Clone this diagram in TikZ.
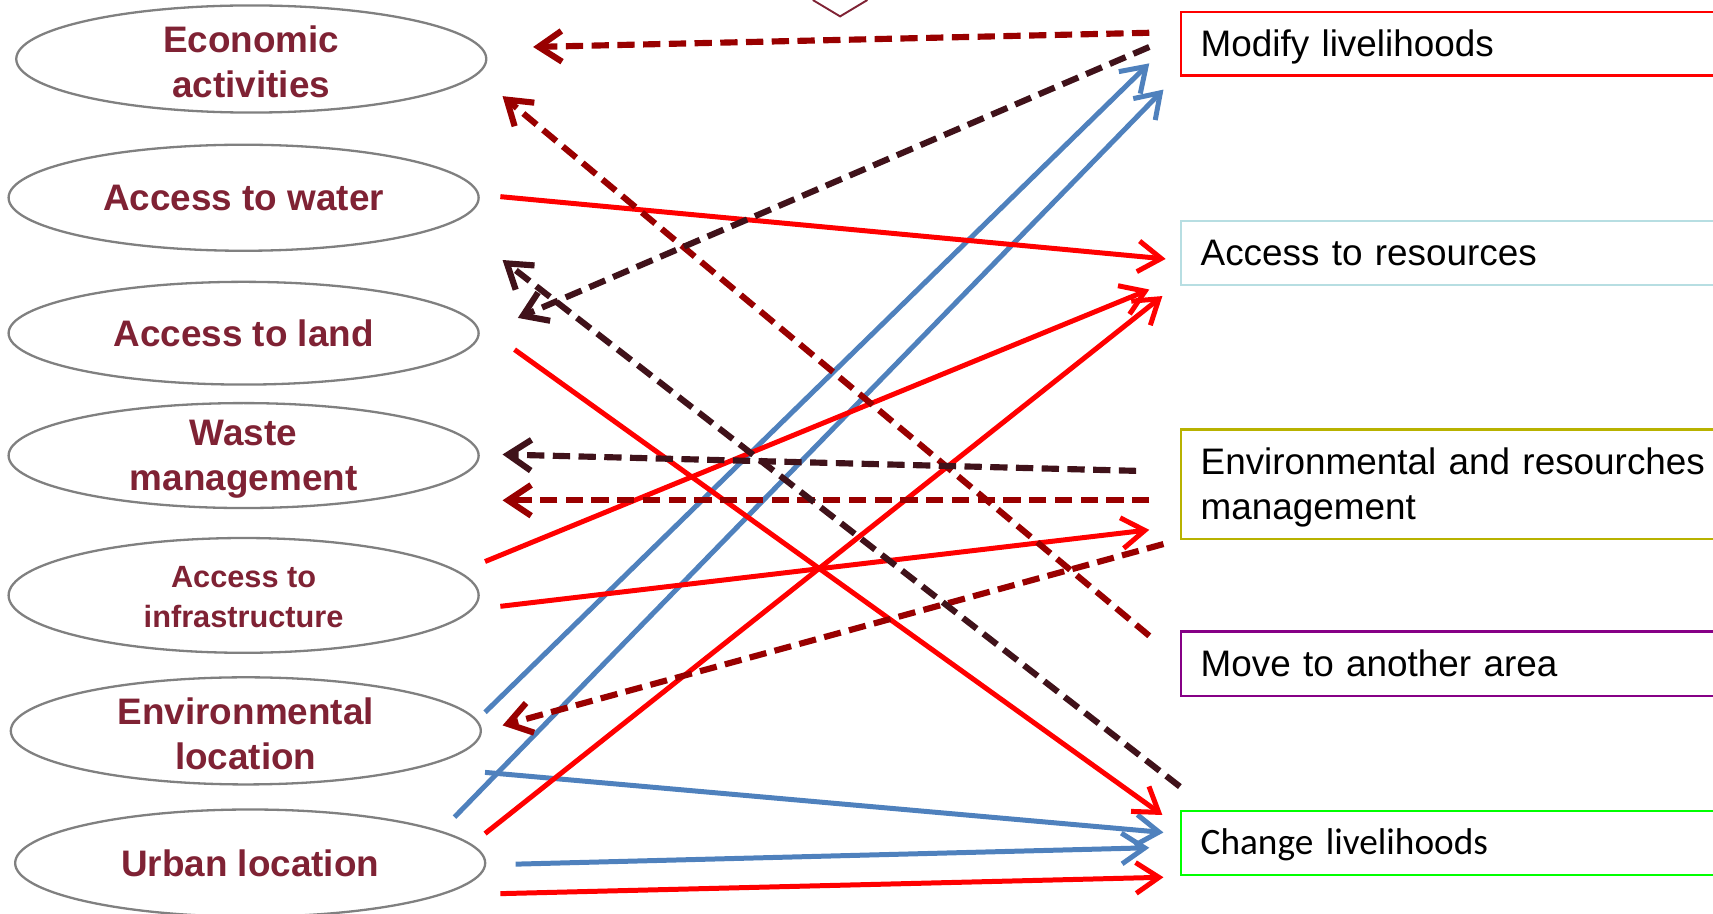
\documentclass[tikz,border=0pt]{standalone}
\usepackage{fontspec}
\setmainfont{Liberation Sans}
\newfontfamily\calibfont{Carlito}
\usetikzlibrary{arrows.meta,shapes.geometric}
\definecolor{txtred}{RGB}{127,34,52}
\definecolor{ellgray}{RGB}{128,128,128}
\definecolor{dashred}{RGB}{153,0,0}
\definecolor{dashbrown}{RGB}{64,18,26}
\definecolor{bluel}{RGB}{79,129,189}
\definecolor{redl}{RGB}{255,0,0}
\definecolor{cyanb}{RGB}{183,222,226}
\definecolor{oliveb}{RGB}{184,178,0}
\definecolor{purpleb}{RGB}{134,0,134}
\definecolor{greenb}{RGB}{0,255,0}
\tikzset{
  oval/.style={ellipse, draw=ellgray, line width=0.6pt, inner sep=0pt,
    minimum width=4.3cm},
  ovaltext/.style={align=center, text=txtred, inner sep=0pt,
    font=\bfseries\fontsize{9.6}{11.7}\selectfont},
  outbox/.style={rectangle, anchor=north west, line width=0.6pt, inner xsep=0.18cm,
    inner ysep=0pt, text width=6cm, align=left, text=black,
    font=\fontsize{9.6}{11.7}\selectfont},
  tipV/.style={-{Straight Barb[length=6pt,width=8pt]}},
  redarrow/.style={draw=redl, line width=1.3pt, tipV},
  bluearrow/.style={draw=bluel, line width=1.3pt, tipV},
  rdash/.style={draw=dashred, line width=1.6pt, dash pattern=on 4.5pt off 2.2pt, tipV},
  bdash/.style={draw=dashbrown, line width=1.6pt, dash pattern=on 4.5pt off 2.2pt, tipV}
}
\begin{document}
\begin{tikzpicture}[x=0.01cm,y=-0.01cm]
\useasboundingbox (0,0) rectangle (1568,836);
% top chevron (cut off)
\draw[txtred, line width=0.5pt] (744,0) -- (769,15) -- (794,0);
% ellipses
\node[oval, minimum height=0.98cm, label={[ovaltext, yshift=-0.025cm]center:{Economic\\activities}}] (econ) at (230,54) {};
\node[oval, minimum height=0.97cm, label={[ovaltext]center:{Access to water}}] (water) at (223,181) {};
\node[oval, minimum height=0.94cm, label={[ovaltext]center:{Access to land}}] (land) at (223,305) {};
\node[oval, minimum height=0.96cm, label={[ovaltext, yshift=-0.035cm]center:{Waste\\management}}] (waste) at (223,417) {};
\node[oval, minimum height=1.05cm, label={[ovaltext, yshift=-0.015cm, font=\bfseries\fontsize{8}{10.2}\selectfont]center:{Access to\\infrastructure}}] (infra) at (223,545) {};
\node[oval, minimum height=0.98cm, label={[ovaltext, yshift=-0.025cm]center:{Environmental\\location}}] (envloc) at (225,669) {};
\node[oval, minimum height=0.98cm, label={[ovaltext]center:{Urban location}}] (urban) at (229,790) {};
% right boxes
\node[outbox, draw=redl, minimum height=0.58cm] (modify) at (1080,10) {\raisebox{-0.9pt}[\height][\depth]{Modify livelihoods}};
\node[outbox, draw=cyanb, minimum height=0.59cm] (resources) at (1080,201) {Access to resources};
\node[outbox, draw=oliveb, minimum height=1.0cm] (envmgmt) at (1080,392) {\raisebox{-0.9pt}[\height][\depth]{\parbox{6cm}{Environmental and resourches\\management}}};
\node[outbox, draw=purpleb, minimum height=0.59cm] (move) at (1080,577) {Move to another area};
\node[outbox, draw=greenb, minimum height=0.59cm, font=\calibfont\fontsize{9.7}{11.7}\selectfont] (change) at (1080,741) {\raisebox{-0.6pt}[\height][\depth]{Change livelihoods}};
% connector end points
\coordinate (d1s) at (1052,30);  \coordinate (d1e) at (488,43);
\coordinate (d2s) at (1052,582); \coordinate (d2e) at (460,88);
\coordinate (d3s) at (1052,458); \coordinate (d3e) at (460,458);
\coordinate (d4s) at (1065,498); \coordinate (d4e) at (460,664);
\coordinate (k1s) at (1052,43);  \coordinate (k1e) at (474,291);
\coordinate (k2s) at (1080,720); \coordinate (k2e) at (460,238);
\coordinate (k3s) at (1040,431); \coordinate (k3e) at (460,416);
\coordinate (r1s) at (458,180);  \coordinate (r1e) at (1067,237);
\coordinate (r2s) at (471,320);  \coordinate (r2e) at (1064,746);
\coordinate (r3s) at (444,514);  \coordinate (r3e) at (1052,265);
\coordinate (r4s) at (458,555);  \coordinate (r4e) at (1052,485);
\coordinate (r5s) at (444,763);  \coordinate (r5e) at (1064,271);
\coordinate (r6s) at (458,818);  \coordinate (r6e) at (1065,803);
\coordinate (b1s) at (444,652);  \coordinate (b1e) at (1052,58);
\coordinate (b2s) at (416,748);  \coordinate (b2e) at (1065,82);
\coordinate (b3s) at (444,707);  \coordinate (b3e) at (1065,762);
\coordinate (b4s) at (472,791);  \coordinate (b4e) at (1052,776);
% solid connectors
\draw[bluearrow] (b1s) -- (b1e);
\draw[bluearrow] (b2s) -- (b2e);
\draw[bluearrow] (b3s) -- (b3e);
\draw[bluearrow] (b4s) -- (b4e);
\draw[redarrow] (r1s) -- (r1e);
\draw[redarrow] (r2s) -- (r2e);
\draw[redarrow] (r3s) -- (r3e);
\draw[redarrow] (r4s) -- (r4e);
\draw[redarrow] (r5s) -- (r5e);
\draw[redarrow] (r6s) -- (r6e);
% dashed connectors
\draw[rdash] (d1s) -- (d1e);
\draw[rdash] (d2s) -- (d2e);
\draw[rdash] (d3s) -- (d3e);
\draw[rdash] (d4s) -- (d4e);
\draw[bdash] (k1s) -- (k1e);
\draw[bdash] (k2s) -- (k2e);
\draw[bdash] (k3s) -- (k3e);
\end{tikzpicture}
\end{document}
